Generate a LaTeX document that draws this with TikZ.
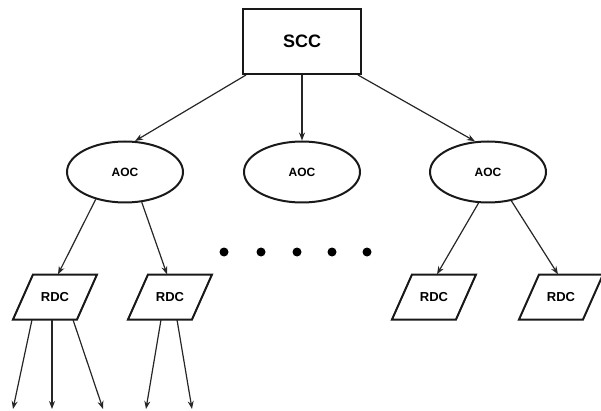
\documentclass[tikz,border=0pt]{standalone}
\usepackage{fontspec}
\setmainfont{Liberation Sans}
\usetikzlibrary{shapes.geometric,arrows.meta}
\begin{document}
\begin{tikzpicture}[x=1pt,y=-1pt,
  boxline/.style={draw=black!90,line width=2pt},
  scc/.style={boxline,rectangle,minimum width=118pt,minimum height=65pt,inner sep=0pt,font=\fontsize{18}{20}\selectfont\bfseries},
  aoc/.style={boxline,ellipse,minimum width=116pt,minimum height=61pt,inner sep=0pt,font=\fontsize{12}{14}\selectfont\bfseries},
  rdc/.style={rectangle,minimum width=64pt,minimum height=45pt,inner sep=0pt,font=\fontsize{13}{15}\selectfont\bfseries},
  conn/.style={draw=black!85,line width=1.2pt,-{Stealth[length=8pt,width=6pt]}},
  dot/.style={circle,fill=black,inner sep=0pt,minimum size=9pt}]
\useasboundingbox (0,0) rectangle (601,411);
% nodes
\node[scc] (scc) at (302,41.5) {SCC};
\node[aoc] (a1) at (125,172) {AOC};
\node[aoc] (a2) at (302,172) {AOC};
\node[aoc] (a3) at (488,172) {AOC};
\node[rdc] (r1) at (55,297) {RDC};
\node[rdc] (r2) at (170,297) {RDC};
\node[rdc] (r3) at (434,297) {RDC};
\node[rdc] (r4) at (561,297) {RDC};
\foreach \n in {r1,r2,r3,r4}
  \draw[boxline] ([shift={(-22pt,22.5pt)}]\n.center) -- ([shift={(42pt,22.5pt)}]\n.center)
     -- ([shift={(22pt,-22.5pt)}]\n.center) -- ([shift={(-42pt,-22.5pt)}]\n.center) -- cycle;
% dots
\foreach \x [count=\i] in {224,261,297,332,367}
  \node[dot] (d\i) at (\x,252) {};
% free ends
\coordinate (e1) at (13,409);
\coordinate (e2) at (52,409);
\coordinate (e3) at (103,409);
\coordinate (e4) at (146,409);
\coordinate (e5) at (192,409);
% connectors
\draw[conn] ([xshift=4pt]scc.south west) -- (a1.72);
\draw[conn] (scc.south) -- (a2.north);
\draw[conn] ([xshift=-4pt]scc.south east) -- (a3.113);
\draw[conn] (a1.223) -- ([xshift=3pt]r1.north);
\draw[conn] (a1.299) -- ([xshift=-3pt]r2.north);
\draw[conn] (a3.253) -- ([xshift=3pt]r3.north);
\draw[conn] (a3.309) -- ([xshift=-3pt]r4.north);
\draw[conn] ([xshift=-23pt]r1.south) -- (e1);
\draw[conn] ([xshift=-3pt]r1.south) -- (e2);
\draw[conn] ([xshift=18pt]r1.south) -- (e3);
\draw[conn] ([xshift=-9pt]r2.south) -- (e4);
\draw[conn] ([xshift=7pt]r2.south) -- (e5);
\end{tikzpicture}
\end{document}
